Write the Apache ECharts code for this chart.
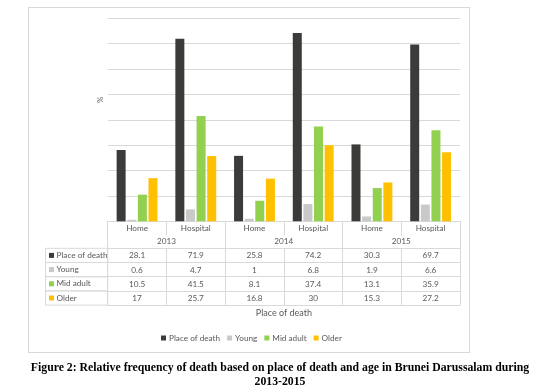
<!DOCTYPE html>
<html>
<head>
<meta charset="utf-8">
<script src="https://cdn.jsdelivr.net/npm/echarts@6/dist/echarts.min.js"></script>
<style>
html,body{margin:0;padding:0;background:#fff;}
#frame{position:absolute;left:28px;top:7px;width:442px;height:346px;border:1px solid #d9d9d9;box-sizing:border-box;}
#chart{position:absolute;left:0;top:0;width:549px;height:386px;}
</style>
</head>
<body>
<div id="frame"></div>
<div id="chart"></div>
<script>
const categories = ['Home', 'Hospital', 'Home', 'Hospital', 'Home', 'Hospital'];
const years = ['2013', '2014', '2015'];
const seriesNames = ['Place of death', 'Young', 'Mid adult', 'Older'];
const placeOfDeath = [28.1, 71.9, 25.8, 74.2, 30.3, 69.7];
const young = [0.6, 4.7, 1, 6.8, 1.9, 6.6];
const midAdult = [10.5, 41.5, 8.1, 37.4, 13.1, 35.9];
const older = [17, 25.7, 16.8, 30, 15.3, 27.2];
const yMin = 0, yMax = 80, yStep = 10;

const seriesValues = [placeOfDeath, young, midAdult, older];
const colors = ['#3b3b39', '#c9c9c9', '#92d050', '#ffc000'];
const FONT = 'Lato';
const FS = 8.2;
const GRAY = '#595959';
const LINE = '#d9d9d9';
const ROW_H = 14.2;
const HEAD_H = 27;
const BOX_H = ROW_H - 2;

const xAxes = [
  {
    type: 'category', data: categories, gridIndex: 0, position: 'bottom',
    axisLine: { show: true, lineStyle: { color: LINE } },
    axisTick: { show: true, interval: 0, length: 14.4, lineStyle: { color: LINE } },
    axisLabel: { interval: 0, margin: 3, fontSize: FS, color: GRAY, fontFamily: FONT }
  },
  {
    type: 'category', data: years, gridIndex: 0, position: 'bottom',
    axisLine: { show: false },
    axisTick: { show: true, interval: 0, length: HEAD_H, lineStyle: { color: LINE } },
    axisLabel: { interval: 0, margin: 16, fontSize: FS, color: GRAY, fontFamily: FONT }
  }
];
seriesValues.forEach((vals, i) => {
  xAxes.push({
    type: 'category', data: vals.map(String), gridIndex: 0, position: 'bottom',
    offset: HEAD_H + ROW_H * i,
    axisLine: { show: true, lineStyle: { color: LINE } },
    axisTick: { show: true, interval: 0, length: ROW_H, lineStyle: { color: LINE } },
    axisLabel: { interval: 0, margin: 3.5, fontSize: FS, color: GRAY, fontFamily: FONT },
    name: '{sq|}{t|' + seriesNames[i] + '}',
    nameLocation: 'start', nameGap: 0,
    nameTruncate: { maxWidth: 58.7 },
    nameTextStyle: {
      align: 'right', verticalAlign: 'top',
      width: 58.7, height: BOX_H, lineHeight: BOX_H,
      padding: [1, 0, 1, 3.5],
      borderColor: LINE, borderWidth: 1,
      rich: {
        sq: { width: 5, height: 5, backgroundColor: colors[i], align: 'left', verticalAlign: 'middle' },
        t: { fontSize: FS, lineHeight: BOX_H, color: GRAY, fontFamily: FONT, padding: [0, 0, 0, 2.5], align: 'left', verticalAlign: 'middle' }
      }
    }
  });
});
xAxes.push({
  type: 'category', data: categories, gridIndex: 0, position: 'bottom',
  offset: HEAD_H + ROW_H * seriesValues.length,
  axisLine: { show: true, lineStyle: { color: LINE } },
  axisTick: { show: false }, axisLabel: { show: false },
  name: 'Place of death', nameLocation: 'middle', nameGap: 3,
  nameTextStyle: { fontSize: 9, color: GRAY, fontFamily: FONT, verticalAlign: 'top' }
});

const chart = echarts.init(document.getElementById('chart'), null, { renderer: 'canvas' });
chart.setOption({
  animation: false,
  backgroundColor: 'transparent',
  title: {
    text: 'Figure 2: Relative frequency of death based on place of death and age in Brunei Darussalam during\n2013-2015',
    left: 275, top: 355.5, textAlign: 'center',
    textStyle: { fontFamily: 'Liberation Serif', fontWeight: 'bold', fontSize: 11.75, lineHeight: 14.3, color: '#000' }
  },
  legend: {
    data: seriesNames, left: 161, top: 334, padding: 0,
    icon: 'rect', itemWidth: 5, itemHeight: 5, itemGap: 7,
    textStyle: { fontSize: FS, color: GRAY, fontFamily: FONT, padding: [0, 0, 0, -2] }
  },
  grid: { left: 107.7, right: 89, top: 18.3, bottom: 386 - 221.3, containLabel: false },
  xAxis: xAxes,
  yAxis: {
    type: 'value', min: yMin, max: yMax, interval: yStep,
    axisLine: { show: false }, axisTick: { show: false }, axisLabel: { show: false },
    splitLine: { lineStyle: { color: LINE } },
    name: '%', nameLocation: 'middle', nameRotate: 90, nameGap: 3,
    nameTextStyle: { fontSize: 8, color: GRAY, fontFamily: FONT, padding: [0, 0, 0, 40] }
  },
  series: seriesNames.map((n, i) => ({
    name: n, type: 'bar', xAxisIndex: 0, yAxisIndex: 0,
    data: seriesValues[i], barWidth: 9, barGap: '18%',
    itemStyle: { color: colors[i] }
  }))
});
</script>
</body>
</html>
